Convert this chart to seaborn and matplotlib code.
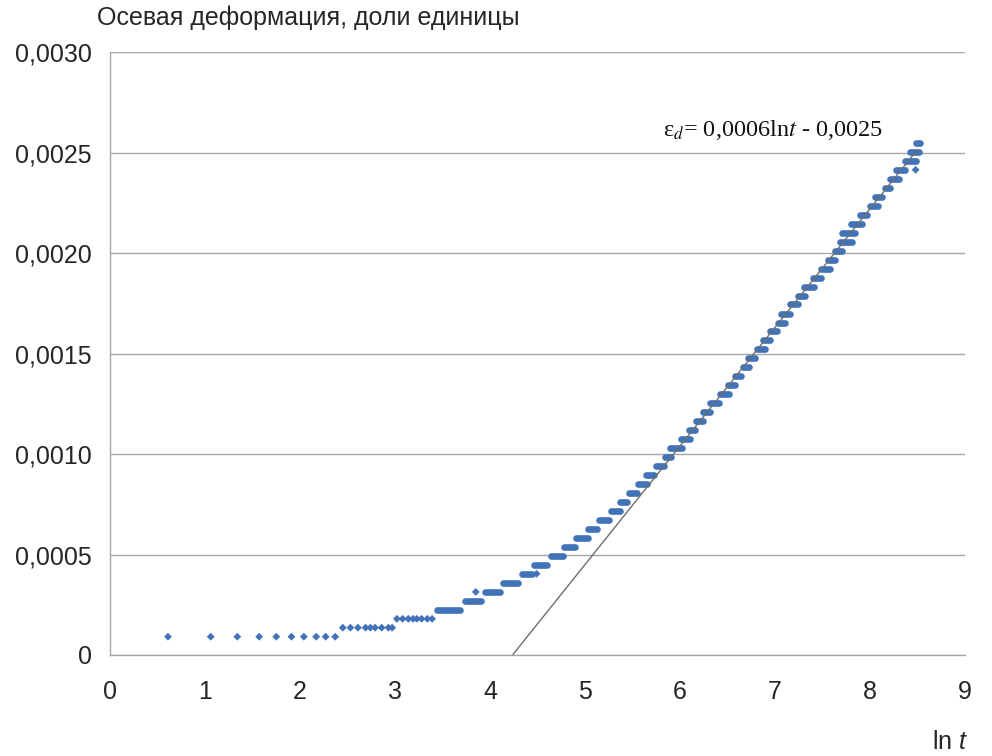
import numpy as np
import pandas as pd
import matplotlib
matplotlib.use("Agg")
import matplotlib.pyplot as plt
import seaborn as sns

# single readings (ln t, axial strain)
single_lnt = [0.61, 1.06, 1.34, 1.57, 1.75, 1.91, 2.04, 2.17, 2.27, 2.37,
              2.45, 2.53, 2.61, 2.69, 2.74, 2.79, 2.86, 2.93, 2.97,
              3.02, 3.08, 3.14, 3.19, 3.23, 3.28, 3.34, 3.39,
              3.85, 4.49, 8.48]
single_eps = [0.000091] * 10 + [0.000136] * 9 + [0.000180] * 8 + \
             [0.000314, 0.000404, 0.002414]

# dense runs of readings on one strain level: level, first and last ln t
run_eps = [0.000225, 0.000270, 0.000314, 0.000359, 0.000404, 0.000448,
           0.000493, 0.000538, 0.000582, 0.000627, 0.000672, 0.000716,
           0.000761, 0.000806, 0.000850, 0.000895, 0.000940, 0.000984,
           0.001029, 0.001074, 0.001118, 0.001163, 0.001208, 0.001252,
           0.001297, 0.001342, 0.001386, 0.001431, 0.001476, 0.001520,
           0.001565, 0.001610, 0.001654, 0.001699, 0.001744, 0.001788,
           0.001833, 0.001878, 0.001922, 0.001967, 0.002012, 0.002056,
           0.002101, 0.002146, 0.002190, 0.002235, 0.002280, 0.002324,
           0.002369, 0.002414, 0.002458, 0.002503, 0.002548]
run_start = [3.44, 3.74, 3.95, 4.14, 4.34, 4.46, 4.64, 4.78, 4.91, 5.03,
             5.15, 5.27, 5.37, 5.46, 5.56, 5.64, 5.75, 5.84, 5.89, 6.01,
             6.09, 6.17, 6.24, 6.32, 6.42, 6.50, 6.58, 6.66, 6.72, 6.81,
             6.87, 6.95, 7.03, 7.06, 7.16, 7.24, 7.31, 7.40, 7.48, 7.56,
             7.63, 7.68, 7.71, 7.80, 7.89, 8.00, 8.05, 8.16, 8.21, 8.27,
             8.37, 8.42, 8.48]
run_end = [3.68, 3.90, 4.10, 4.29, 4.44, 4.60, 4.77, 4.89, 5.03, 5.13,
           5.25, 5.37, 5.44, 5.55, 5.65, 5.73, 5.83, 5.91, 6.02, 6.10,
           6.16, 6.24, 6.32, 6.41, 6.52, 6.58, 6.64, 6.73, 6.79, 6.89,
           6.95, 7.02, 7.10, 7.16, 7.24, 7.32, 7.41, 7.48, 7.58, 7.63,
           7.71, 7.81, 7.84, 7.92, 7.97, 8.08, 8.13, 8.21, 8.31, 8.37,
           8.48, 8.52, 8.53]

# logarithmic trend line
trend_slope = 0.00059
trend_intercept = -0.0025
trend_lnt_end = 8.5

x_ticks = [0, 1, 2, 3, 4, 5, 6, 7, 8, 9]
y_ticks = [0, 0.0005, 0.0010, 0.0015, 0.0020, 0.0025, 0.0030]
y_tick_labels = ["0", "0,0005", "0,0010", "0,0015", "0,0020", "0,0025", "0,0030"]

sns.set_style("white")
plt.rcParams["font.family"] = ["Liberation Sans", "DejaVu Sans"]
plt.rcParams["mathtext.fontset"] = "custom"
plt.rcParams["mathtext.rm"] = "Liberation Sans"
plt.rcParams["mathtext.it"] = "Liberation Sans:italic"

blue = "#4272b8"
grey = "#a6a6a6"
text_col = "#262626"

fig = plt.figure(figsize=(9.92, 7.56), dpi=100)
ax = fig.add_axes([0.1109, 0.1336, 0.8619, 0.7976])

runs = pd.DataFrame({
    "level": np.repeat(np.arange(len(run_eps)), 2),
    "lnt": np.ravel(np.column_stack([run_start, run_end])),
    "eps": np.repeat(run_eps, 2),
})
sns.lineplot(data=runs, x="lnt", y="eps", units="level", estimator=None,
             sort=False, color=blue, lw=4.8, solid_capstyle="round", ax=ax)

singles = pd.DataFrame({"lnt": single_lnt, "eps": single_eps})
sns.scatterplot(data=singles, x="lnt", y="eps", marker="D", s=16,
                color=blue, edgecolor="none", ax=ax)

trend_x = np.array([-trend_intercept / trend_slope, trend_lnt_end])
sns.lineplot(x=trend_x, y=trend_slope * trend_x + trend_intercept,
             color="#6e6e6e", lw=1.0, ax=ax)

ax.text(6.98, 0.00261, "ε$_{\\mathit{d}}$= 0,0006ln$\\mathit{t}$ - 0,0025",
        fontsize=17.5, family="Liberation Serif", math_fontfamily="stix",
        color="#111111", ha="center", va="center")

ax.set_xlim(0, 9)
ax.set_ylim(0, 0.003)
ax.set_xticks(x_ticks)
ax.set_yticks(y_ticks)
ax.set_yticklabels(y_tick_labels)
ax.set_xlabel("")
ax.set_ylabel("")
ax.grid(axis="y", color=grey, lw=1.0)
ax.set_axisbelow(True)
for side in ["top", "right"]:
    ax.spines[side].set_visible(False)
for side in ["left", "bottom"]:
    ax.spines[side].set_color(grey)
    ax.spines[side].set_linewidth(1.0)
ax.tick_params(axis="both", colors=grey, labelcolor=text_col,
               labelsize=18, length=6, width=1.0, direction="out")
ax.tick_params(axis="x", pad=12)
ax.tick_params(axis="y", pad=7)

fig.text(0.0978, 0.976, "Осевая деформация, доли единицы",
         fontsize=18, color=text_col, ha="left", va="center")
fig.text(0.958, 0.019, "ln $\\mathit{t}$", fontsize=18, color=text_col,
         ha="center", va="center")

fig.savefig("out.png", dpi=100)
